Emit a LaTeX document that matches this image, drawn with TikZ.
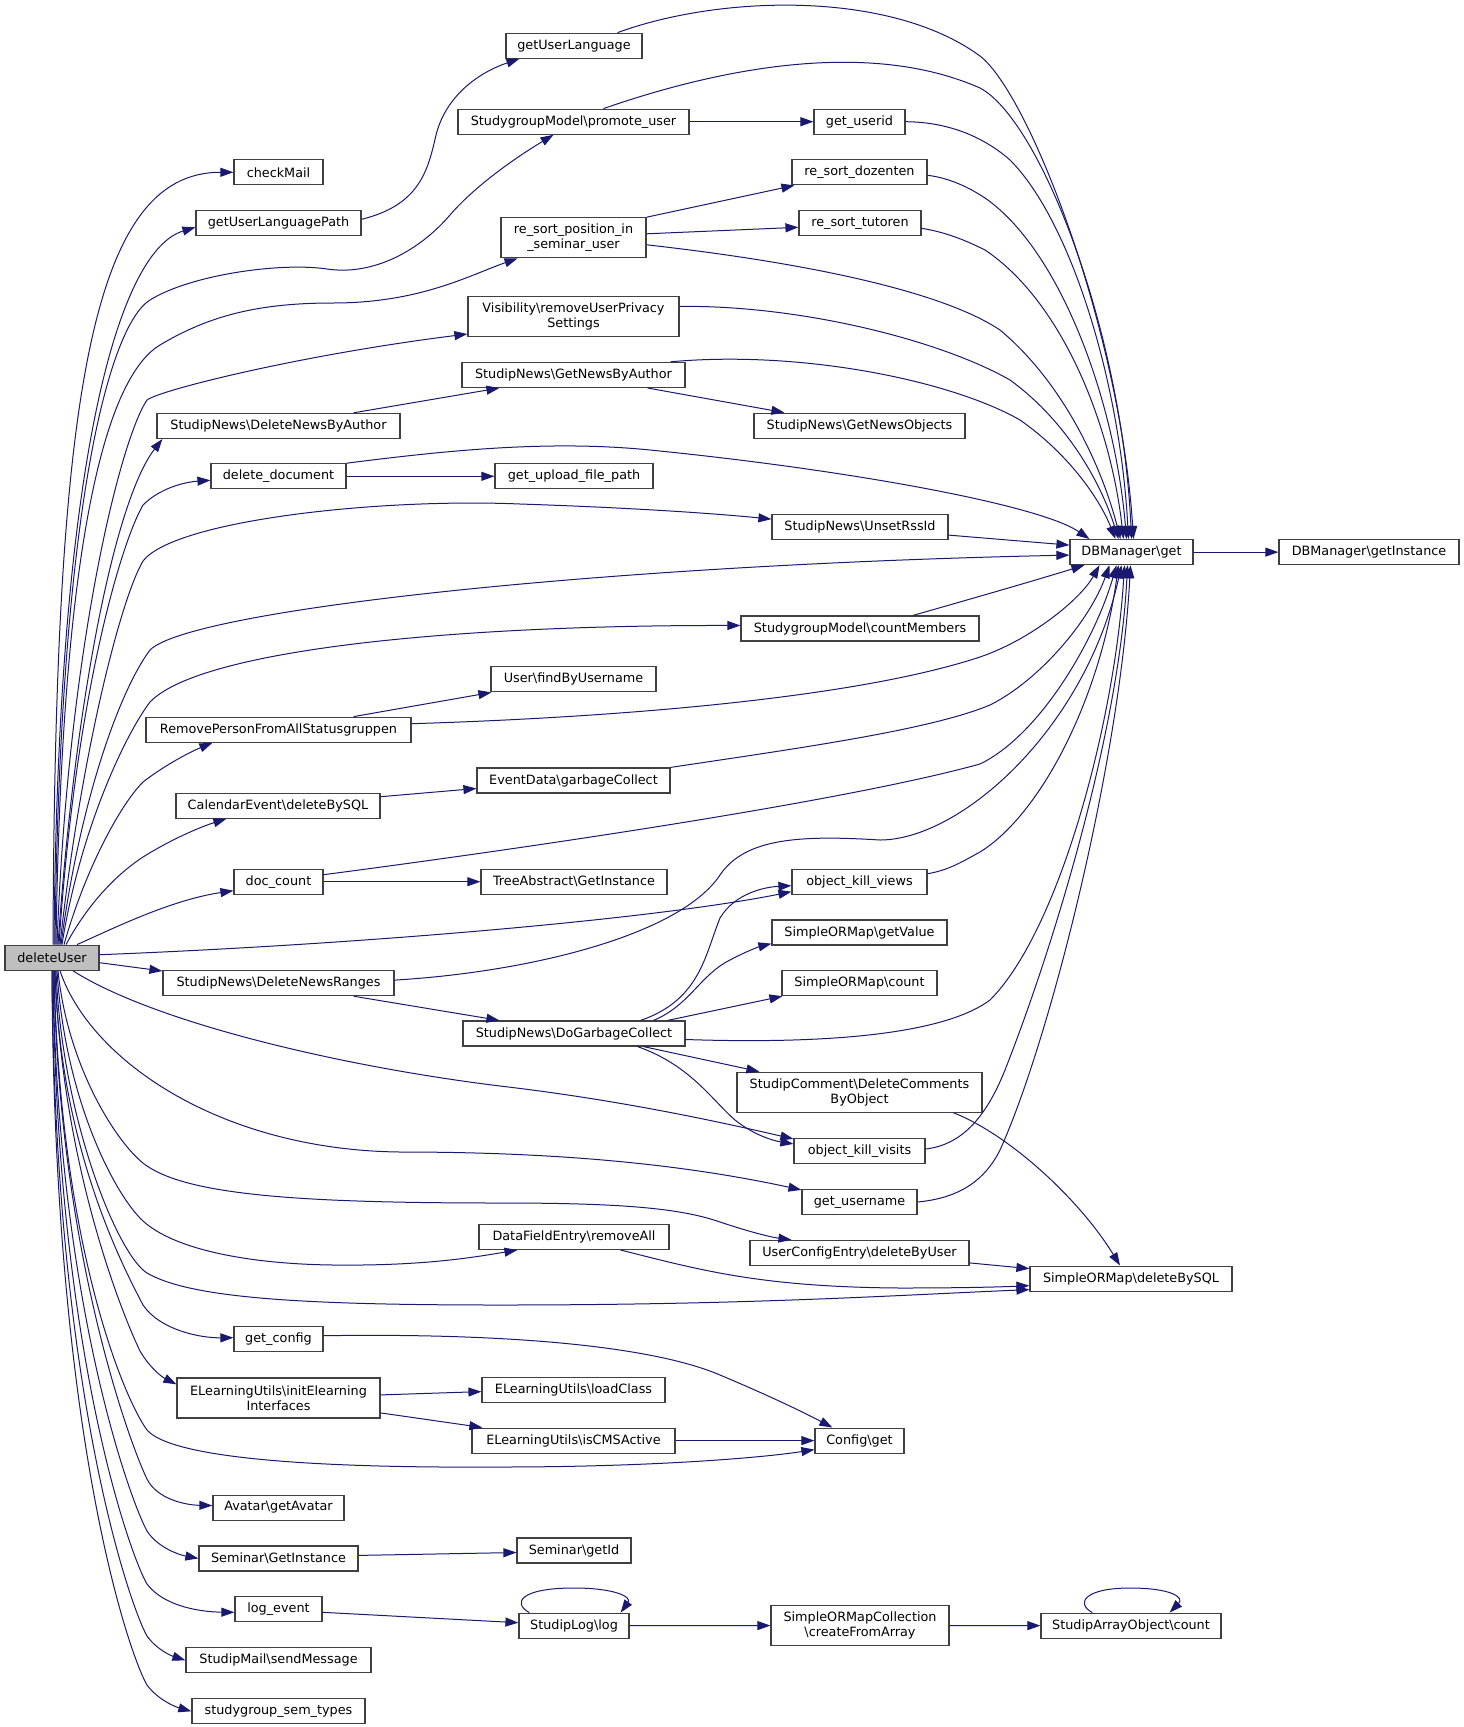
\documentclass[tikz,border=0pt]{standalone}
\usepackage{fontspec}
\setmainfont{DejaVu Sans}
\usetikzlibrary{arrows.meta}
\definecolor{edgecol}{HTML}{191970}
\definecolor{bordercol}{HTML}{404040}
\definecolor{rootfill}{HTML}{BFBFBF}
\begin{document}
\begin{tikzpicture}[x=1pt,y=-1pt,
  fn/.style={draw=bordercol, line width=1.2pt, fill=white, inner sep=0pt, minimum height=25pt, align=center, font=\fontsize{12.8}{15}\selectfont},
  fn2/.style={fn, minimum height=40pt},
  e/.style={draw=edgecol, line width=1pt, -{Triangle[length=13pt,width=9pt]}},
]
\path[use as bounding box, fill=white] (0,0) rectangle (1464,1727);

% ---------- nodes ----------
\node[fn,fill=rootfill,minimum width=94pt] (du) at (52,957.7) {deleteUser};
\node[fn,minimum width=89pt] (cm) at (278.5,172.3) {checkMail};
\node[fn,minimum width=165pt] (gulp) at (278.5,223.3) {getUserLanguagePath};
\node[fn,minimum width=136pt] (gul) at (574,45.7) {getUserLanguage};
\node[fn,minimum width=231pt] (pu) at (573.5,121.7) {StudygroupModel\textbackslash promote\_user};
\node[fn,minimum width=91pt] (gui) at (859.5,121.7) {get\_userid};
\node[fn,minimum width=135pt] (rsd) at (859.5,172.3) {re\_sort\_dozenten};
\node[fn,minimum width=122pt] (rst) at (860,223.3) {re\_sort\_tutoren};
\node[fn2,minimum width=145pt] (rsp) at (573.5,237.8) {re\_sort\_position\_in\\\_seminar\_user};
\node[fn2,minimum width=211pt] (vis) at (573.5,316.4) {Visibility\textbackslash removeUserPrivacy\\Settings};
\node[fn,minimum width=223pt] (gnba) at (573.5,374.9) {StudipNews\textbackslash GetNewsByAuthor};
\node[fn,minimum width=211pt] (gno) at (859.5,425.7) {StudipNews\textbackslash GetNewsObjects};
\node[fn,minimum width=243pt] (dnba) at (278.5,425.9) {StudipNews\textbackslash DeleteNewsByAuthor};
\node[fn,minimum width=135pt] (dd) at (278.5,476.3) {delete\_document};
\node[fn,minimum width=158pt] (gufp) at (574,476.3) {get\_upload\_file\_path};
\node[fn,minimum width=176pt] (ursi) at (860,527.1) {StudipNews\textbackslash UnsetRssId};
\node[fn,minimum width=123pt] (dbg) at (1131.5,552.1) {DBManager\textbackslash get};
\node[fn,minimum width=180pt] (dbgi) at (1369,552.1) {DBManager\textbackslash getInstance};
\node[fn,minimum width=238pt] (cmem) at (860,628.5) {StudygroupModel\textbackslash countMembers};
\node[fn,minimum width=165pt] (ufbu) at (573.5,679.3) {User\textbackslash findByUsername};
\node[fn,minimum width=265pt] (rp) at (278.5,729.7) {RemovePersonFromAllStatusgruppen};
\node[fn,minimum width=193pt] (edgc) at (573.5,780.5) {EventData\textbackslash garbageCollect};
\node[fn,minimum width=204pt] (ced) at (278,805.7) {CalendarEvent\textbackslash deleteBySQL};
\node[fn,minimum width=89pt] (dc) at (278.5,881.7) {doc\_count};
\node[fn,minimum width=186pt] (tagi) at (574,881.7) {TreeAbstract\textbackslash GetInstance};
\node[fn,minimum width=135pt] (okv) at (859.5,881.7) {object\_kill\_views};
\node[fn,minimum width=175pt] (sgv) at (859.5,932.5) {SimpleORMap\textbackslash getValue};
\node[fn,minimum width=155pt] (scnt) at (859.5,983.1) {SimpleORMap\textbackslash count};
\node[fn,minimum width=231pt] (dnr) at (278.5,983.1) {StudipNews\textbackslash DeleteNewsRanges};
\node[fn,minimum width=222pt] (dgc) at (574,1033.5) {StudipNews\textbackslash DoGarbageCollect};
\node[fn2,minimum width=245pt] (sc) at (859.5,1092.2) {StudipComment\textbackslash DeleteComments\\ByObject};
\node[fn,minimum width=131pt] (okvi) at (859.5,1151) {object\_kill\_visits};
\node[fn,minimum width=115pt] (gun) at (859.5,1202) {get\_username};
\node[fn,minimum width=190pt] (dfe) at (574,1236.9) {DataFieldEntry\textbackslash removeAll};
\node[fn,minimum width=219pt] (uce) at (859.5,1252.9) {UserConfigEntry\textbackslash deleteByUser};
\node[fn,minimum width=202pt] (sdbs) at (1131,1278.6) {SimpleORMap\textbackslash deleteBySQL};
\node[fn,minimum width=89pt] (gc) at (278.5,1338.7) {get\_config};
\node[fn2,minimum width=203pt] (iei) at (278.5,1397.9) {ELearningUtils\textbackslash initElearning\\Interfaces};
\node[fn,minimum width=183pt] (elc) at (573.5,1389.6) {ELearningUtils\textbackslash loadClass};
\node[fn,minimum width=203pt] (cms) at (573.5,1440.6) {ELearningUtils\textbackslash isCMSActive};
\node[fn,minimum width=89pt] (cfg) at (859.5,1440.6) {Config\textbackslash get};
\node[fn,minimum width=131pt] (av) at (278.5,1507.6) {Avatar\textbackslash getAvatar};
\node[fn,minimum width=159pt] (sgi) at (278.5,1558.4) {Seminar\textbackslash GetInstance};
\node[fn,minimum width=114pt] (sgid) at (574,1550.5) {Seminar\textbackslash getId};
\node[fn,minimum width=87pt] (le) at (278.5,1609.3) {log\_event};
\node[fn,minimum width=110pt] (slog) at (574,1625.7) {StudipLog\textbackslash log};
\node[fn2,minimum width=178pt] (socfa) at (860,1625.5) {SimpleORMapCollection\\\textbackslash createFromArray};
\node[fn,minimum width=180pt] (saoc) at (1131,1625.7) {StudipArrayObject\textbackslash count};
\node[fn,minimum width=185pt] (smsm) at (278.5,1660.3) {StudipMail\textbackslash sendMessage};
\node[fn,minimum width=173pt] (sst) at (278.5,1711.3) {studygroup\_sem\_types};

% ---------- edges from deleteUser (upwards) ----------
\draw[e] ([xshift=1pt]du.north) .. controls (55,400) and (90,172) .. (cm.west);
\draw[e] ([xshift=2pt]du.north) .. controls (58,450) and (120,250) .. ([yshift=-4pt]gulp.west);
\draw[e] ([xshift=3pt]du.north) .. controls (60,500) and (110,325) .. (150,300) .. controls (190,275) and (280,262) .. (327,269) .. controls (374,276) and (420,250) .. (450,215) .. controls (475,186) and (515,158) .. ([xshift=-20pt]pu.south);
\draw[e] ([xshift=4pt]du.north) .. controls (62,520) and (110,375) .. (160,345) .. controls (210,315) and (260,303) .. (333,303) .. controls (420,303) and (470,275) .. ([xshift=-56pt]rsp.south);
\draw[e] ([xshift=5pt]du.north) .. controls (68,650) and (120,440) .. (147,400) .. controls (160,390) and (300,355) .. ([yshift=3pt]vis.south west);
\draw[e] ([xshift=6pt]du.north) .. controls (75,700) and (115,500) .. ([xshift=6pt]dnba.south west);
\draw[e] ([xshift=7pt]du.north) .. controls (75,700) and (120,545) .. (143,505) .. controls (160,488) and (185,482) .. ([yshift=-4pt]dd.west);
\draw[e] ([xshift=8pt]du.north) .. controls (80,760) and (120,600) .. (143,561) .. controls (175,520) and (380,498) .. (520,504) .. controls (640,508) and (720,514) .. ([yshift=8pt]ursi.west);
\draw[e] ([xshift=9pt]du.north) .. controls (80,800) and (120,690) .. (150,650) .. controls (190,610) and (600,565) .. ([yshift=-3pt]dbg.west);
\draw[e] ([xshift=10pt]du.north) .. controls (80,830) and (125,735) .. (150,702) .. controls (200,650) and (450,625) .. ([yshift=3pt]cmem.west);
\draw[e] ([xshift=12pt]du.north) .. controls (85,870) and (120,805) .. (143,782) .. controls (165,765) and (190,752) .. ([xshift=67pt]rp.south west);
\draw[e] ([xshift=14pt]du.north) .. controls (90,900) and (120,872) .. (143,857) .. controls (170,840) and (200,827) .. ([xshift=51pt]ced.south west);
\draw[e] ([xshift=25pt]du.north) .. controls (110,930) and (170,900) .. ([yshift=-9pt]dc.west);

% ---------- edges from deleteUser (right) ----------
\draw[e] ([yshift=3pt]du.east) .. controls (350,945) and (650,920) .. ([yshift=-10pt]okv.west);
\draw[e] ([yshift=-5pt]du.east) -- ([yshift=-1pt]dnr.north west);

% ---------- edges from deleteUser (downwards) ----------
\draw[e] ([xshift=21pt]du.south) .. controls (150,1020) and (330,1065) .. (500,1086) .. controls (620,1100) and (720,1122) .. ([yshift=-1pt]okvi.north west);
\draw[e] ([xshift=8pt]du.south) .. controls (90,1060) and (220,1150) .. (400,1152) .. controls (580,1152) and (700,1168) .. ([yshift=-1pt]gun.north west);
\draw[e] ([xshift=6pt]du.south) .. controls (68,1070) and (120,1148) .. (147,1166) .. controls (190,1195) and (300,1203) .. (500,1203) .. controls (620,1203) and (680,1208) .. (720,1222) .. controls (750,1232) and (770,1237) .. ([xshift=42pt]uce.north west);
\draw[e] ([xshift=5pt]du.south) .. controls (65,1100) and (115,1195) .. (143,1221) .. controls (175,1250) and (250,1264) .. (333,1265) .. controls (420,1266) and (470,1258) .. ([xshift=39pt]dfe.south west);
\draw[e] ([xshift=4pt]du.south) .. controls (62,1120) and (118,1255) .. (147,1273) .. controls (190,1298) and (300,1305) .. (500,1305) .. controls (750,1305) and (900,1295) .. ([yshift=-11pt]sdbs.west);
\draw[e] ([xshift=3pt]du.south) .. controls (60,1150) and (125,1270) .. (143,1305) .. controls (160,1330) and (200,1338) .. ([yshift=1pt]gc.west);
\draw[e] ([xshift=3pt]du.south) .. controls (62,1170) and (125,1320) .. (140,1351) .. controls (150,1368) and (162,1377) .. ([yshift=-7pt]iei.north west);
\draw[e] ([xshift=2pt]du.south) .. controls (60,1250) and (125,1400) .. (147,1430) .. controls (175,1462) and (350,1468) .. (500,1467) .. controls (650,1467) and (760,1458) .. ([yshift=-9pt]cfg.west);
\draw[e] ([xshift=2pt]du.south) .. controls (58,1250) and (130,1444) .. (147,1479) .. controls (157,1499) and (185,1505) .. ([yshift=2pt]av.west);
\draw[e] ([xshift=1pt]du.south) .. controls (57,1300) and (130,1500) .. (147,1531) .. controls (158,1548) and (180,1555) .. (sgi.west);
\draw[e] ([xshift=1pt]du.south) .. controls (56,1350) and (130,1555) .. (147,1584) .. controls (165,1608) and (205,1612) .. ([yshift=-3pt]le.west);
\draw[e] (du.south) .. controls (55,1400) and (132,1610) .. (147,1636) .. controls (157,1650) and (172,1656) .. (smsm.west);
\draw[e] (du.south) .. controls (54,1450) and (132,1660) .. (147,1685) .. controls (158,1700) and (176,1707) .. (sst.west);

% ---------- other edges ----------
\draw[e] ([yshift=4pt]gulp.east) .. controls (420,205) and (428,170) .. (436,135) .. controls (446,95) and (480,72) .. ([xshift=14pt]gul.south west);
\draw[e] ([xshift=-25pt]gul.north east) .. controls (720,-5) and (890,-10) .. (980,56) .. controls (1030,95) and (1120,330) .. ([xshift=2pt]dbg.north);
\draw[e] (pu) -- (gui);
\draw[e] ([xshift=30pt]pu.north) .. controls (700,75) and (860,35) .. (980,88) .. controls (1040,120) and (1122,330) .. (dbg.north);
\draw[e] (gui.east) .. controls (950,122) and (985,138) .. (1010,160) .. controls (1070,220) and (1120,380) .. ([xshift=-3pt]dbg.north);
\draw[e] (rsp.north east) -- ([xshift=3pt]rsd.south west);
\draw[e] ([yshift=4pt]rsp.east) -- ([yshift=-4pt]rst.west);
\draw[e] ([yshift=-3pt]rsd.east) .. controls (950,178) and (970,188) .. (985,198) .. controls (1060,250) and (1115,400) .. ([xshift=-5pt]dbg.north);
\draw[e] ([yshift=-5pt]rst.east) .. controls (945,232) and (965,240) .. (985,250) .. controls (1060,300) and (1110,420) .. ([xshift=-8pt]dbg.north);
\draw[e] ([yshift=-7pt]rsp.east) .. controls (800,262) and (940,290) .. (1000,330) .. controls (1060,380) and (1100,460) .. ([xshift=-11pt]dbg.north);
\draw[e] ([yshift=10pt]vis.east) .. controls (800,305) and (940,340) .. (1010,380) .. controls (1065,420) and (1100,480) .. ([xshift=-13pt]dbg.north);
\draw[e] ([xshift=-38pt]gnba.south east) -- ([xshift=31pt]gno.north west);
\draw[e] ([xshift=-15pt]gnba.north east) .. controls (800,350) and (950,380) .. (1020,420) .. controls (1070,455) and (1100,500) .. ([xshift=-16pt]dbg.north);
\draw[e] ([xshift=-47pt]dnba.north east) -- ([xshift=38pt]gnba.south west);
\draw[e] (dd) -- (gufp);
\draw[e] (dd.north east) .. controls (450,450) and (550,440) .. (650,450) .. controls (850,470) and (1040,505) .. ([xshift=20pt]dbg.north west);
\draw[e] ([yshift=-8pt]ursi.east) -- ([yshift=7pt]dbg.west);
\draw[e] (dbg) -- (dbgi);
\draw[e] ([xshift=53pt]cmem.north) .. controls (960,602) and (1030,582) .. ([xshift=15pt]dbg.south west);
\draw[e] ([xshift=-58pt]rp.north east) -- ([xshift=1pt]ufbu.south west);
\draw[e] ([yshift=6pt]rp.east) .. controls (600,718) and (850,700) .. (980,657) .. controls (1030,640) and (1080,600) .. ([xshift=-32pt]dbg.south);
\draw[e] ([yshift=9pt]ced.east) -- ([yshift=-8pt]edgc.west);
\draw[e] (edgc.north east) .. controls (800,748) and (930,730) .. (990,705) .. controls (1040,680) and (1090,620) .. ([xshift=-22pt]dbg.south);
\draw[e] (dc) -- (tagi);
\draw[e] ([yshift=7pt]dc.east) .. controls (550,845) and (850,800) .. (980,764) .. controls (1040,735) and (1095,640) .. ([xshift=-15pt]dbg.south);
\draw[e] ([yshift=8pt]okv.east) .. controls (950,870) and (965,860) .. (980,852) .. controls (1040,815) and (1100,700) .. ([xshift=-13pt]dbg.south);
\draw[e] ([xshift=-41pt]dnr.south east) -- ([xshift=37pt]dgc.north west);
\draw[e] ([yshift=3pt]dnr.east) .. controls (530,972) and (680,935) .. (720,875) .. controls (745,838) and (800,835) .. (880,840) .. controls (960,840) and (1085,730) .. ([xshift=-10pt]dbg.south);
\draw[e] ([xshift=-45pt]dgc.north east) .. controls (700,1000) and (705,955) .. (720,918) .. controls (735,893) and (765,887) .. ([yshift=-4pt]okv.west);
\draw[e] ([xshift=-32pt]dgc.north east) .. controls (690,1005) and (700,975) .. (730,960) .. controls (745,952) and (758,947) .. ([yshift=2pt]sgv.south west);
\draw[e] ([xshift=-18pt]dgc.north east) -- ([xshift=1pt]scnt.south west);
\draw[e] ([yshift=-6pt]dgc.east) .. controls (850,1045) and (950,1030) .. (990,1000) .. controls (1060,930) and (1115,720) .. ([xshift=-7pt]dbg.south);
\draw[e] ([xshift=-42pt]dgc.south east) -- ([xshift=23pt]sc.north west);
\draw[e] ([xshift=-48pt]dgc.south east) .. controls (690,1065) and (712,1100) .. (735,1120) .. controls (755,1136) and (775,1141) .. ([yshift=-6pt]okvi.north west);
\draw[e] ([xshift=-29pt]sc.south east) .. controls (1010,1135) and (1080,1200) .. ([xshift=-11pt]sdbs.north);
\draw[e] ([yshift=2pt]okvi.east) .. controls (960,1145) and (985,1120) .. (1005,1070) .. controls (1060,930) and (1120,720) .. ([xshift=-4pt]dbg.south);
\draw[e] (gun.east) .. controls (960,1198) and (985,1180) .. (1000,1150) .. controls (1050,1040) and (1120,760) .. ([xshift=-1pt]dbg.south);
\draw[e] ([xshift=-49pt]dfe.south east) .. controls (700,1270) and (760,1287) .. (900,1288) .. controls (960,1288) and (1000,1287) .. ([yshift=-7pt]sdbs.west);
\draw[e] ([yshift=-10pt]uce.east) -- ([yshift=10pt]sdbs.west);
\draw[e] ([yshift=3pt]gc.east) .. controls (500,1333) and (650,1345) .. (720,1375) .. controls (770,1396) and (805,1413) .. ([xshift=18pt]cfg.north west);
\draw[e] ([yshift=3pt]iei.east) -- ([yshift=-2pt]elc.west);
\draw[e] ([yshift=-15pt]iei.east) -- ([xshift=11pt]cms.north west);
\draw[e] (cms) -- (cfg);
\draw[e] ([yshift=3pt]sgi.east) -- ([yshift=-2pt]sgid.west);
\draw[e] ([yshift=-3pt]le.east) -- ([yshift=3pt]slog.west);
\draw[e] ([xshift=11pt]slog.north west) .. controls (512,1603) and (520,1588) .. (574,1588) .. controls (615,1588) and (632,1597) .. ([xshift=-9pt]slog.north east);
\draw[e] (slog) -- (socfa);
\draw[e] (socfa) -- (saoc);
\draw[e] ([xshift=52pt]saoc.north west) .. controls (1075,1603) and (1085,1588) .. (1130,1588) .. controls (1170,1588) and (1185,1597) .. ([xshift=-52pt]saoc.north east);
\end{tikzpicture}
\end{document}
